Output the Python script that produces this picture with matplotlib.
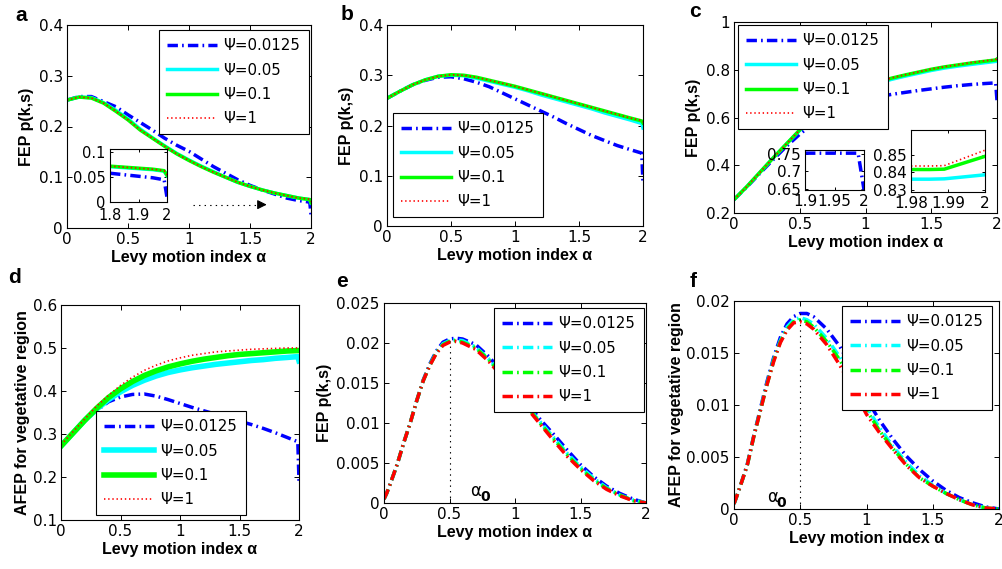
import numpy as np
import matplotlib.pyplot as plt
from matplotlib.ticker import FuncFormatter

plt.rcParams['font.family'] = ['DejaVu Sans']
plt.rcParams['lines.scale_dashes'] = False
plt.rcParams['axes.linewidth'] = 0.8

W, H = 1002, 569

psi_labels = ['Ψ=0.0125', 'Ψ=0.05', 'Ψ=0.1', 'Ψ=1']
xlabel = 'Levy motion index α'

# ---- panel a: FEP
x_a = [0, 0.1, 0.2, 0.3, 0.4, 0.5, 0.6, 0.7, 0.8, 0.9, 1.0, 1.1, 1.2, 1.3, 1.4, 1.5,
       1.6, 1.7, 1.8, 1.9, 1.99, 2.0]
a_blue = [0.252, 0.259, 0.259, 0.249, 0.239, 0.223, 0.208, 0.193, 0.177, 0.163, 0.151,
          0.136, 0.121, 0.108, 0.095, 0.084, 0.075, 0.067, 0.059, 0.054, 0.051, 0.026]
a_cyan = [0.252, 0.258, 0.257, 0.247, 0.232, 0.215, 0.195, 0.178, 0.162, 0.147, 0.134,
          0.122, 0.111, 0.100, 0.090, 0.082, 0.075, 0.069, 0.064, 0.059, 0.056, 0.049]
a_green = [0.252, 0.258, 0.256, 0.246, 0.230, 0.213, 0.193, 0.177, 0.161, 0.146, 0.133,
           0.121, 0.110, 0.100, 0.090, 0.082, 0.075, 0.069, 0.064, 0.059, 0.056, 0.050]
a_red = [0.252, 0.258, 0.256, 0.246, 0.230, 0.213, 0.193, 0.177, 0.161, 0.146, 0.133,
         0.121, 0.110, 0.100, 0.090, 0.082, 0.075, 0.069, 0.064, 0.059, 0.057, 0.052]
# inset of panel a
xi_a = [1.8, 1.85, 1.9, 1.95, 1.99, 2.0]
ia_blue = [0.057, 0.054, 0.051, 0.048, 0.044, 0.009]
ia_cyan = [0.070, 0.068, 0.066, 0.064, 0.061, 0.052]
ia_green = [0.071, 0.069, 0.067, 0.065, 0.062, 0.053]
ia_red = [0.071, 0.069, 0.067, 0.065, 0.062, 0.054]

# ---- panel b: FEP
x_b = x_a
b_blue = [0.254, 0.268, 0.281, 0.290, 0.296, 0.297, 0.293, 0.286, 0.277, 0.265, 0.253,
          0.241, 0.229, 0.217, 0.204, 0.192, 0.180, 0.170, 0.160, 0.152, 0.145, 0.085]
b_cyan = [0.254, 0.268, 0.281, 0.291, 0.298, 0.300, 0.299, 0.294, 0.288, 0.282, 0.276,
          0.269, 0.261, 0.254, 0.247, 0.240, 0.233, 0.225, 0.218, 0.211, 0.204, 0.195]
b_green = [0.254, 0.268, 0.281, 0.291, 0.298, 0.301, 0.300, 0.296, 0.290, 0.284, 0.278,
           0.271, 0.264, 0.257, 0.250, 0.243, 0.236, 0.229, 0.222, 0.215, 0.209, 0.205]
b_red = [0.254, 0.268, 0.281, 0.291, 0.298, 0.301, 0.300, 0.296, 0.290, 0.284, 0.278,
         0.271, 0.264, 0.257, 0.250, 0.243, 0.236, 0.229, 0.222, 0.215, 0.210, 0.207]

# ---- panel c: FEP
x_c = x_a
c_blue = [0.256, 0.310, 0.368, 0.425, 0.480, 0.530, 0.575, 0.610, 0.640, 0.660, 0.675,
          0.687, 0.697, 0.705, 0.713, 0.720, 0.727, 0.733, 0.738, 0.742, 0.745, 0.670]
c_cyan = [0.256, 0.312, 0.372, 0.432, 0.490, 0.546, 0.597, 0.640, 0.675, 0.705, 0.727,
          0.745, 0.760, 0.773, 0.785, 0.797, 0.807, 0.815, 0.822, 0.829, 0.835, 0.838]
c_green = [0.256, 0.312, 0.372, 0.432, 0.490, 0.548, 0.600, 0.645, 0.680, 0.710, 0.732,
           0.750, 0.765, 0.778, 0.790, 0.802, 0.812, 0.820, 0.828, 0.835, 0.841, 0.845]
c_red = [0.256, 0.312, 0.372, 0.432, 0.490, 0.548, 0.600, 0.645, 0.681, 0.711, 0.733,
         0.751, 0.766, 0.779, 0.791, 0.803, 0.813, 0.821, 0.830, 0.837, 0.843, 0.849]
# insets of panel c
xi_c1 = [1.9, 1.95, 1.99, 2.0]
ic1_blue = [0.752, 0.752, 0.752, 0.648]
xi_c2 = [1.98, 1.985, 1.989, 2.0]
ic2_cyan = [0.8360, 0.8360, 0.8362, 0.8385]
ic2_green = [0.8415, 0.8415, 0.8417, 0.8490]
ic2_red = [0.8435, 0.8435, 0.8437, 0.8525]

# ---- panel d: AFEP
x_d = x_a
d_blue = [0.272, 0.302, 0.330, 0.355, 0.375, 0.386, 0.392, 0.393, 0.388, 0.380, 0.371,
          0.362, 0.354, 0.346, 0.338, 0.330, 0.322, 0.313, 0.303, 0.292, 0.282, 0.190]
d_cyan = [0.272, 0.302, 0.332, 0.358, 0.380, 0.398, 0.413, 0.425, 0.435, 0.443, 0.449,
          0.454, 0.458, 0.462, 0.465, 0.468, 0.471, 0.473, 0.476, 0.478, 0.480, 0.470]
d_green = [0.272, 0.302, 0.332, 0.360, 0.385, 0.405, 0.422, 0.436, 0.447, 0.456, 0.463,
           0.469, 0.474, 0.478, 0.482, 0.485, 0.487, 0.489, 0.491, 0.493, 0.494, 0.494]
d_red = [0.275, 0.305, 0.335, 0.365, 0.390, 0.413, 0.432, 0.448, 0.460, 0.470, 0.477,
         0.483, 0.487, 0.491, 0.493, 0.495, 0.497, 0.498, 0.499, 0.500, 0.500, 0.500]

# ---- panel e: FEP
x_e = [0, 0.02, 0.05, 0.1, 0.15, 0.2, 0.25, 0.3, 0.35, 0.4, 0.45, 0.5, 0.55, 0.6, 0.7,
       0.8, 0.9, 1.0, 1.1, 1.2, 1.3, 1.4, 1.5, 1.6, 1.7, 1.8, 1.9, 2.0]
e_blue = [0.0005, 0.0012, 0.0025, 0.0048, 0.0075, 0.0100, 0.0128, 0.0154, 0.0174, 0.0190,
          0.0201, 0.0205, 0.0206, 0.0205, 0.0198, 0.0183, 0.0164, 0.0144, 0.0123, 0.0103,
          0.0085, 0.0066, 0.0048, 0.0033, 0.0021, 0.0012, 0.0005, 0.0]
e_cyan = [0.0005, 0.0012, 0.0025, 0.0048, 0.0075, 0.0100, 0.0128, 0.0153, 0.0173, 0.0188,
          0.0199, 0.0203, 0.0204, 0.0203, 0.0195, 0.0180, 0.0161, 0.0141, 0.0120, 0.0100,
          0.0081, 0.0062, 0.0045, 0.0031, 0.0019, 0.0010, 0.0004, 0.0]
e_green = [0.0005, 0.0012, 0.0025, 0.0048, 0.0075, 0.0100, 0.0128, 0.0153, 0.0172, 0.0188,
           0.0198, 0.0202, 0.0203, 0.0201, 0.0194, 0.0179, 0.0160, 0.0140, 0.0119, 0.0098,
           0.0079, 0.0060, 0.0043, 0.0029, 0.0018, 0.0010, 0.0003, 0.0]
e_red = [0.0005, 0.0012, 0.0025, 0.0048, 0.0075, 0.0100, 0.0128, 0.0153, 0.0172, 0.0187,
         0.0197, 0.0201, 0.0202, 0.0200, 0.0192, 0.0177, 0.0158, 0.0138, 0.0117, 0.0097,
         0.0077, 0.0058, 0.0042, 0.0028, 0.0017, 0.0009, 0.0003, 0.0]

# ---- panel f: AFEP
x_f = x_e
f_blue = [0.0005, 0.0012, 0.0023, 0.0043, 0.0071, 0.0097, 0.0123, 0.0146, 0.0165, 0.0178,
          0.0185, 0.0188, 0.0188, 0.0185, 0.0173, 0.0156, 0.0133, 0.0106, 0.0085, 0.0067,
          0.0051, 0.0038, 0.0027, 0.0018, 0.0011, 0.0006, 0.0002, 0.0]
f_cyan = [0.0005, 0.0012, 0.0023, 0.0042, 0.0070, 0.0096, 0.0121, 0.0144, 0.0162, 0.0175,
          0.0182, 0.0184, 0.0182, 0.0178, 0.0164, 0.0146, 0.0123, 0.0098, 0.0078, 0.0060,
          0.0045, 0.0032, 0.0023, 0.0015, 0.0009, 0.0004, 0.0001, 0.0]
f_green = [0.0005, 0.0012, 0.0023, 0.0042, 0.0070, 0.0095, 0.0120, 0.0143, 0.0161, 0.0173,
           0.0180, 0.0182, 0.0180, 0.0175, 0.0161, 0.0143, 0.0120, 0.0095, 0.0075, 0.0058,
           0.0043, 0.0030, 0.0022, 0.0015, 0.0009, 0.0004, 0.0001, 0.0]
f_red = [0.0005, 0.0012, 0.0023, 0.0042, 0.0070, 0.0095, 0.0120, 0.0142, 0.0160, 0.0172,
         0.0179, 0.0180, 0.0178, 0.0173, 0.0158, 0.0138, 0.0115, 0.0091, 0.0073, 0.0057,
         0.0042, 0.0030, 0.0022, 0.0015, 0.0009, 0.0004, 0.0001, 0.0]

alpha0 = 0.5

DASHDOT = (0, (7.5, 3, 1.2, 3))
DOTTED = (0, (1, 2))


def px_rect(x0, y0, x1, y1):
    return [x0 / W, 1 - y1 / H, (x1 - x0) / W, (y1 - y0) / H]


fmt = FuncFormatter(lambda v, p: '%g' % round(v, 6))


def style_axes(ax, xticks, yticks, xlim, ylim, size=11):
    ax.set_xlim(xlim)
    ax.set_ylim(ylim)
    ax.set_xticks(xticks)
    ax.set_yticks(yticks)
    ax.xaxis.set_major_formatter(fmt)
    ax.yaxis.set_major_formatter(fmt)
    ax.tick_params(direction='in', top=True, right=True, length=3.5, width=0.7,
                   labelsize=size, pad=3)


def add_legend(ax, fx, fy):
    leg = ax.legend(psi_labels, loc='upper left', bbox_to_anchor=(fx / W, 1 - fy / H),
                    bbox_transform=fig.transFigure, fontsize=10.8, frameon=True,
                    fancybox=False, framealpha=1, edgecolor='black',
                    handlelength=3.3, labelspacing=0.62, borderpad=0.55,
                    handletextpad=0.45, borderaxespad=0)
    leg.get_frame().set_linewidth(0.8)
    return leg


def plot_four(ax, x, ys, lw_mid=2.5, all_dashdot=False):
    cols = ['#0000ff', '#00ffff', '#00ff00', '#ff0000']
    for i, (y, c) in enumerate(zip(ys, cols)):
        if all_dashdot:
            ax.plot(x, y, color=c, lw=2.5, linestyle=DASHDOT)
        elif i == 0:
            ax.plot(x, y, color=c, lw=2.5, linestyle=DASHDOT)
        elif i == 3:
            ax.plot(x, y, color=c, lw=1.2, linestyle=DOTTED)
        else:
            ax.plot(x, y, color=c, lw=lw_mid, linestyle='-')


def alpha_label(ax, x, y):
    ax.text(x, y, 'α', fontsize=12)
    ax.annotate('0', xy=(x, y), xytext=(7, -4), textcoords='offset points',
                fontsize=10, fontweight='bold')


fig = plt.figure(figsize=(W / 100, H / 100), dpi=100)

xt = [0, 0.5, 1, 1.5, 2]
lab_font = dict(fontsize=11.5, fontweight='bold', family='Liberation Sans')

# panel a
ax = fig.add_axes(px_rect(67, 25, 311, 228))
plot_four(ax, x_a, [a_blue, a_cyan, a_green, a_red])
style_axes(ax, xt, [0, 0.1, 0.2, 0.3, 0.4], (0, 2), (0, 0.4))
ax.set_xlabel(xlabel, labelpad=2, **lab_font)
ax.set_ylabel('FEP p(k,s)', labelpad=3, **lab_font)
add_legend(ax, 159, 30)
ax.plot([1.03, 1.62], [0.046, 0.046], color='k', lw=0.8, linestyle=(0, (1, 3)))
ax.annotate('', xy=(1.66, 0.046), xytext=(1.58, 0.046),
            arrowprops=dict(arrowstyle='-|>', color='k', lw=0.8, mutation_scale=14))
ins = fig.add_axes(px_rect(110, 149, 167, 202))
plot_four(ins, xi_a, [ia_blue, ia_cyan, ia_green, ia_red])
style_axes(ins, [1.8, 1.9, 2], [0, 0.05, 0.1], (1.8, 2), (0, 0.105), size=10.5)
ins.tick_params(length=2)
ins.tick_params(axis='x', pad=4)

# panel b
ax = fig.add_axes(px_rect(387, 25, 643, 226))
plot_four(ax, x_b, [b_blue, b_cyan, b_green, b_red])
style_axes(ax, xt, [0, 0.1, 0.2, 0.3, 0.4], (0, 2), (0, 0.4))
ax.set_xlabel(xlabel, labelpad=2, **lab_font)
ax.set_ylabel('FEP p(k,s)', labelpad=3, **lab_font)
add_legend(ax, 393, 113)

# panel c
ax = fig.add_axes(px_rect(734, 22, 997, 213))
plot_four(ax, x_c, [c_blue, c_cyan, c_green, c_red])
style_axes(ax, xt, [0.2, 0.4, 0.6, 0.8, 1.0], (0, 2), (0.2, 1.0))
ax.set_xlabel(xlabel, labelpad=2, **lab_font)
ax.set_ylabel('FEP p(k,s)', labelpad=3, **lab_font)
add_legend(ax, 738, 25)
ins = fig.add_axes(px_rect(805, 150, 864, 190))
ins.plot(xi_c1, ic1_blue, color='#0000ff', lw=2.5, linestyle=DASHDOT)
style_axes(ins, [1.9, 1.95, 2], [0.65, 0.7, 0.75], (1.9, 2), (0.647, 0.761))
ins.tick_params(length=2)
ins = fig.add_axes(px_rect(911, 130, 985, 192))
ins.plot(xi_c2, ic2_cyan, color='#00ffff', lw=2.5)
ins.plot(xi_c2, ic2_green, color='#00ff00', lw=2.5)
ins.plot(xi_c2, ic2_red, color='#ff0000', lw=1.2, linestyle=DOTTED)
style_axes(ins, [1.98, 1.99, 2], [0.83, 0.84, 0.85], (1.98, 2), (0.8287, 0.864))
ins.tick_params(length=2)

# panel d
ax = fig.add_axes(px_rect(61, 305, 299, 520))
plot_four(ax, x_d, [d_blue, d_cyan, d_green, d_red], lw_mid=4)
style_axes(ax, xt, [0.1, 0.2, 0.3, 0.4, 0.5, 0.6], (0, 2), (0.1, 0.6))
ax.set_xlabel(xlabel, labelpad=2, **lab_font)
ax.set_ylabel('AFEP for vegetative region', labelpad=2, **lab_font)
add_legend(ax, 96, 411)

# panel e
ax = fig.add_axes(px_rect(384, 303, 646, 503))
plot_four(ax, x_e, [e_blue, e_cyan, e_green, e_red], all_dashdot=True)
ax.plot([alpha0, alpha0], [0, max(e_red)], color='k', lw=0.8, linestyle=(0, (1, 3)))
alpha_label(ax, 0.66, 0.0009)
style_axes(ax, xt, [0, 0.005, 0.01, 0.015, 0.02, 0.025], (0, 2), (0, 0.025))
ax.set_xlabel(xlabel, labelpad=2, **lab_font)
ax.set_ylabel('FEP p(k,s)', labelpad=3, **lab_font)
add_legend(ax, 494, 308)

# panel f
ax = fig.add_axes(px_rect(734, 301, 999, 509))
plot_four(ax, x_f, [f_blue, f_cyan, f_green, f_red], all_dashdot=True)
ax.plot([alpha0, alpha0], [0, max(f_blue)], color='k', lw=0.8, linestyle=(0, (1, 3)))
alpha_label(ax, 0.25, 0.0007)
style_axes(ax, xt, [0, 0.005, 0.01, 0.015, 0.02], (0, 2), (0, 0.02))
ax.set_xlabel(xlabel, labelpad=2, **lab_font)
ax.set_ylabel('AFEP for vegetative region', labelpad=2, **lab_font)
add_legend(ax, 842, 306)

# panel letters
for letter, (lx, ly) in zip('abcdef', [(15, 21), (341, 20), (689, 17),
                                       (8, 283), (336, 287), (690, 287)]):
    fig.text(lx / W, 1 - ly / H, letter, fontsize=15, fontweight='bold',
             family='Liberation Sans', va='baseline', ha='left')

fig.savefig('out.png', dpi=100)
